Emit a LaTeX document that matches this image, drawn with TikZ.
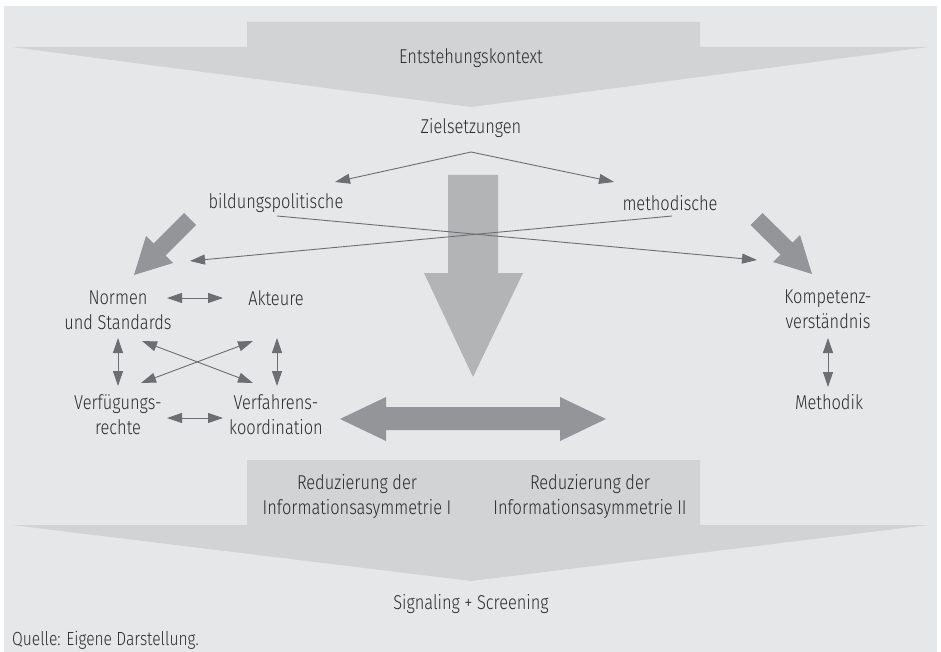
\documentclass[tikz,border=0pt]{standalone}
\usepackage{fontspec}
\IfFontExistsTF{Fira Sans Light}
  {\setmainfont{Fira Sans Light}[FakeStretch=0.82]}
  {\setmainfont{Fira Sans}[FakeStretch=0.82]}
\usetikzlibrary{arrows.meta}
\definecolor{panel}{HTML}{E6E7E8}
\definecolor{flowlight}{HTML}{D1D3D4}
\definecolor{flowmid}{HTML}{B3B4B6}
\definecolor{flowdark}{HTML}{939598}
\definecolor{linkgray}{HTML}{6D6E71}
\definecolor{txt}{HTML}{2B2B2B}
\begin{document}
\begin{tikzpicture}[x=1pt,y=-1pt,
  lbl/.style={font=\fontsize{20}{25}\selectfont, text=txt, align=center, inner sep=0pt},
  note/.style={font=\fontsize{19}{22}\selectfont, text=txt, inner sep=0pt},
  linkone/.style={draw=linkgray, line width=0.9pt, arrows={-Triangle[length=15pt,width=10pt]}},
  linktwo/.style={draw=linkgray, line width=0.9pt, arrows={Triangle[length=15pt,width=10pt]-Triangle[length=15pt,width=10pt]}},
  bigflow/.style={fill=flowlight, draw=none},
  midflow/.style={fill=flowmid, draw=none},
  darkflow/.style={fill=flowdark, draw=none}]
\useasboundingbox (0,0) rectangle (941,652);
\fill[white] (0,0) rectangle (941,652);
\fill[panel] (4,6) rectangle (937,652);

% upper funnel: context narrowing to the objectives
\fill[bigflow] (247,22) -- (700,22) -- (700,47) -- (928,47) -- (471,107) -- (12,47) -- (247,47) -- cycle;
% lower funnel: reduction of information asymmetries
\fill[bigflow] (247,460) -- (700,460) -- (700,525) -- (928,525) -- (471,581) -- (12,525) -- (247,525) -- cycle;

% central downward arrow
\fill[midflow] (448,175) -- (498,175) -- (498,273) -- (523,273) -- (473,377) -- (424,273) -- (448,273) -- cycle;

% horizontal double arrow
\fill[darkflow] (340,419) -- (386,397) -- (386,407) -- (560,407) -- (560,397) -- (606,419) -- (560,441) -- (560,430) -- (386,430) -- (386,441) -- cycle;

% diagonal arrows towards the two clusters
\fill[darkflow] (184,213) -- (196,225) -- (165.5,255.5) -- (173,263) -- (134,275) -- (146,236) -- (153.5,243.5) -- cycle;
\fill[darkflow] (762.5,213) -- (750.5,225) -- (780.5,254.5) -- (773,262) -- (812,274) -- (800,235) -- (792.5,242.5) -- cycle;

% labels
\node[lbl] (ctx) at (471,58) {Entstehungskontext};
\node[lbl] (goals) at (471,128) {Zielsetzungen};
\node[lbl] (edu) at (276,203) {bildungspolitische};
\node[lbl] (meth) at (670,203) {methodische};
\node[lbl] (norm) at (118,310) {Normen\\und Standards};
\node[lbl] (act) at (276,298) {Akteure};
\node[lbl] (rights) at (118,415) {Verfügungs-\\rechte};
\node[lbl] (coord) at (276,415) {Verfahrens-\\koordination};
\node[lbl] (comp) at (828,309) {Kompetenz-\\verständnis};
\node[lbl] (method) at (829,402) {Methodik};
\node[lbl] (red1) at (357,497) {Reduzierung der\\Informationsasymmetrie I};
\node[lbl] (red2) at (590,497) {Reduzierung der\\Informationsasymmetrie II};
\node[lbl] (sig) at (471,604) {Signaling + Screening};
\node[note, anchor=west] (src) at (12,640) {Quelle: Eigene Darstellung.};

% end points of the thin connectors
\coordinate (gsplit) at (471,152);
\coordinate (gleft) at (335,182);
\coordinate (gright) at (614,182);
\coordinate (edufrom) at (277,216);
\coordinate (eduto) at (757,260);
\coordinate (methfrom) at (672,216);
\coordinate (methto) at (190,261);
\coordinate (na1) at (167,298);
\coordinate (na2) at (223,298);
\coordinate (nv1) at (118,338);
\coordinate (nv2) at (118,386);
\coordinate (av1) at (277,338);
\coordinate (av2) at (277,386);
\coordinate (xa1) at (142,341);
\coordinate (xa2) at (253,383);
\coordinate (xb1) at (253,341);
\coordinate (xb2) at (141,383);
\coordinate (vv1) at (167,418);
\coordinate (vv2) at (223,418);
\coordinate (km1) at (828,338);
\coordinate (km2) at (828,387);

% objectives split
\draw[linkone] (gsplit) -- (gleft);
\draw[linkone] (gsplit) -- (gright);
% crossing influences
\draw[linkone] (edufrom) -- (eduto);
\draw[linkone] (methfrom) -- (methto);
% left cluster
\draw[linktwo] (na1) -- (na2);
\draw[linktwo] (nv1) -- (nv2);
\draw[linktwo] (av1) -- (av2);
\draw[linktwo] (xa1) -- (xa2);
\draw[linktwo] (xb1) -- (xb2);
\draw[linktwo] (vv1) -- (vv2);
% right cluster
\draw[linktwo] (km1) -- (km2);
\end{tikzpicture}
\end{document}
